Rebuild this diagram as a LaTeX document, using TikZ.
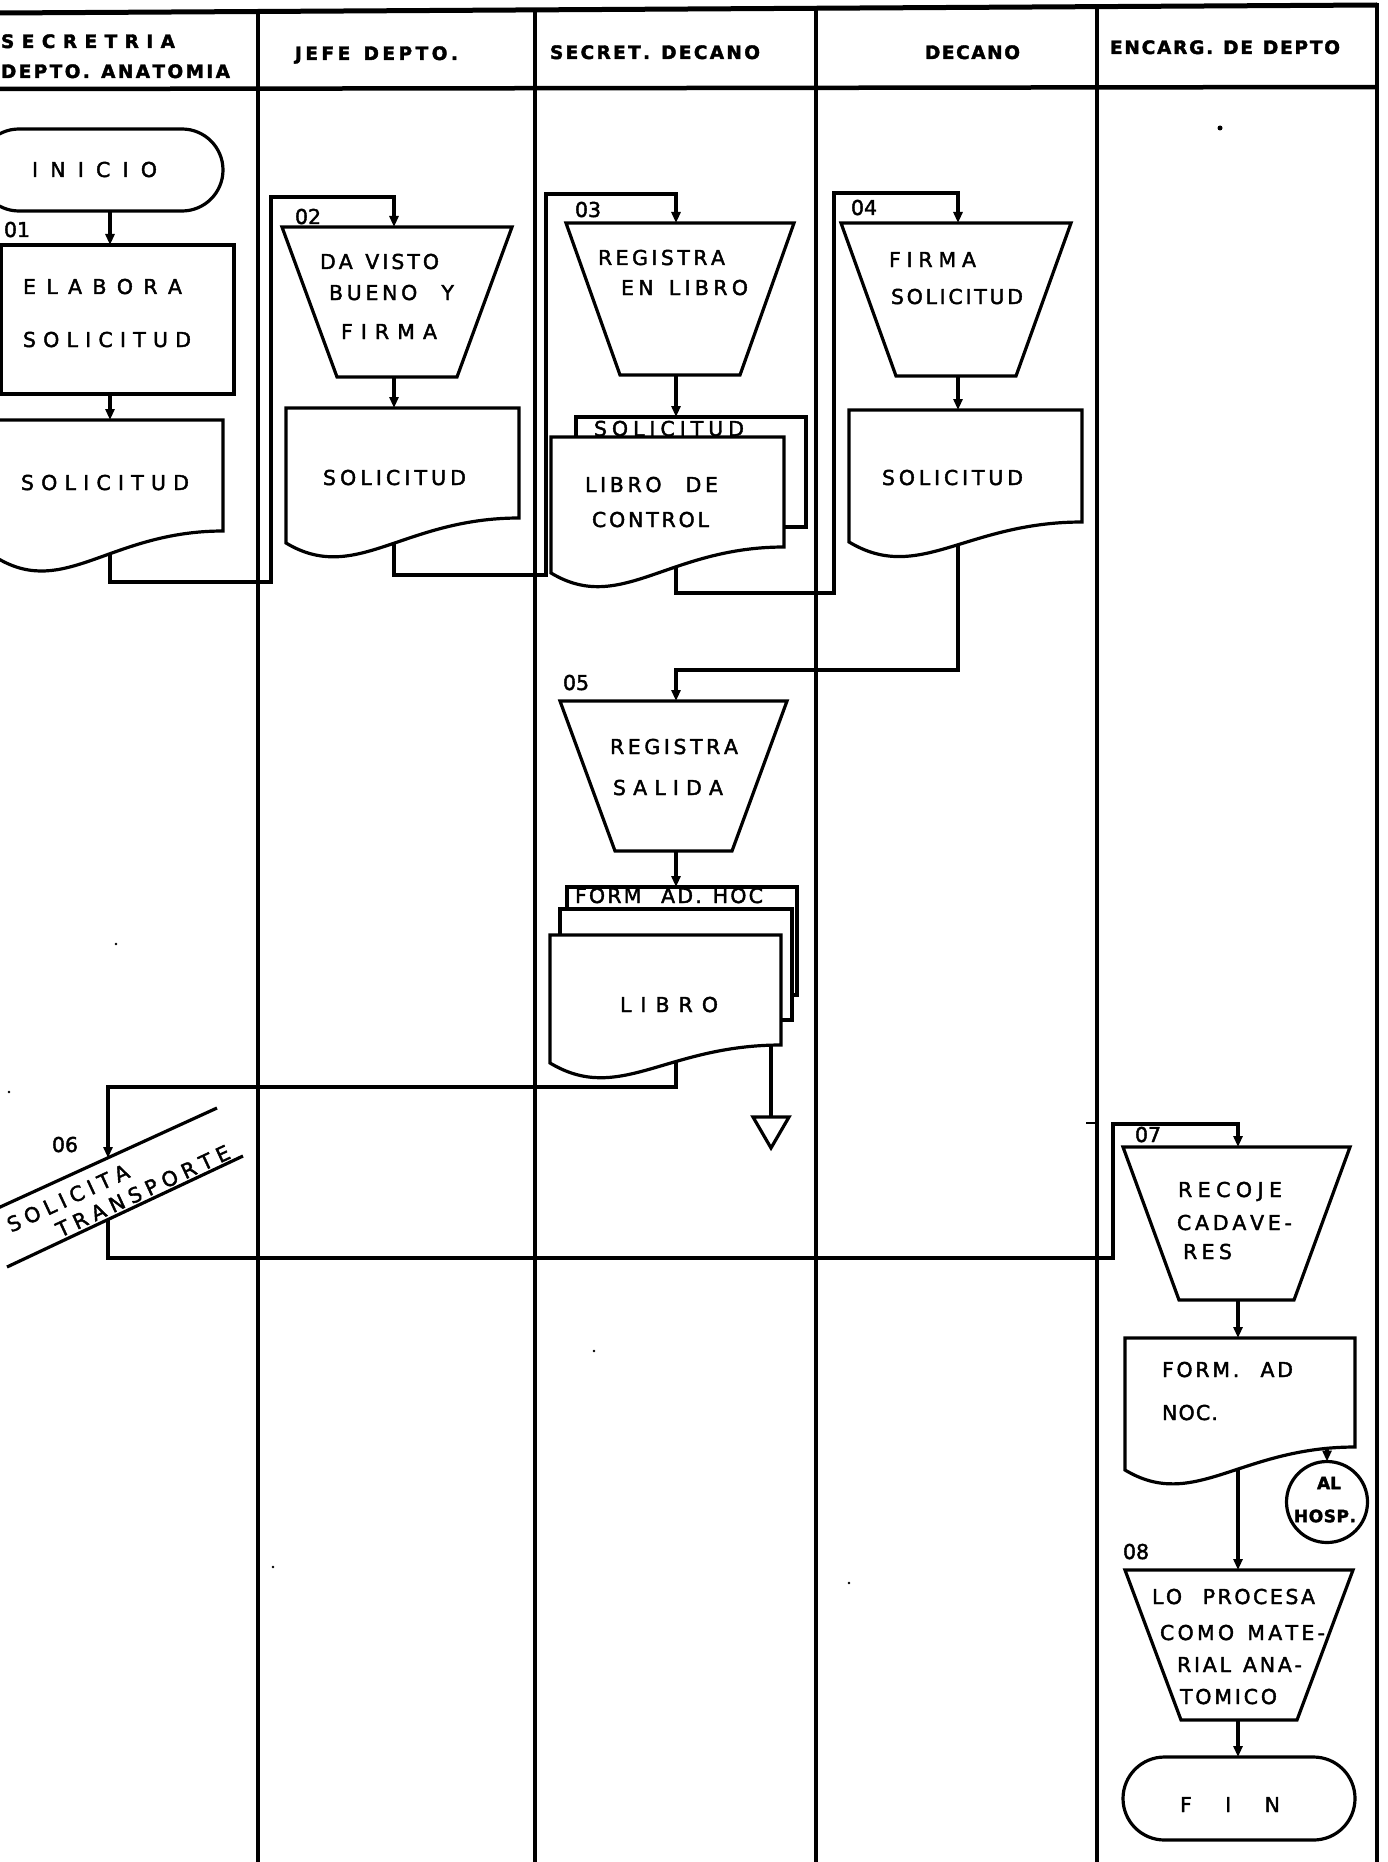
\documentclass[tikz,border=0pt]{standalone}
\usepackage{fontspec}
\usetikzlibrary{calc,arrows.meta,shapes.misc}
\newfontfamily\lett[FakeBold=2]{DejaVu Sans}

% spread the letters of a word evenly over a given width (in pt); ~ is a space
\makeatletter
\newcommand\spr[2]{\hbox to #1pt{\let\spr@sep\relax\@tfor\spr@t:=#2\do{\spr@sep\spr@t\let\spr@sep\hfil}}}
\makeatother

% manual-operation trapezoid drawn on a frame node
\newcommand\trap[2]{\filldraw[shp] (#1.north west) -- (#1.north east) -- ($(#1.south east)+(-#2,0)$) -- ($(#1.south west)+(#2,0)$) -- cycle;}
% document symbol with wavy lower edge: node, width, extra drop on the left
\newcommand\docu[3]{\filldraw[shp] (#1.north west) -- (#1.north east) -- (#1.south east) .. controls (#1.south) and ($(#1.south west)+({0.3*#2},{#3+0.18*#2})$) .. ($(#1.south west)+(0,#3)$) -- cycle;}

\tikzset{
  shp/.style={draw=black, fill=white, line width=3.2pt},
  frame/.style={rectangle, draw=none, inner sep=0pt, outer sep=0pt, anchor=north west},
  term/.style={shp, rounded rectangle, inner sep=0pt, outer sep=0pt},
  flow/.style={draw=black, line width=3.2pt, -{Triangle[length=11pt,width=9pt]}},
  link/.style={draw=black, line width=3.2pt},
  lane/.style={draw=black, line width=3.6pt},
  txt/.style={inner sep=0pt, outer sep=0pt, anchor=base west, font=\lett\fontsize{20.5}{20.5}\selectfont},
  hd/.style={txt, font=\lett\bfseries\fontsize{18.5}{18.5}\selectfont},
  speck/.style={fill=black},
}

\begin{document}
\begin{tikzpicture}[x=1pt,y=-1pt]
\useasboundingbox (0,0) rectangle (1388,1862);
\clip (0,0) rectangle (1388,1862);
\fill[white] (0,0) rectangle (1388,1862);

% header rules and swimlane dividers
\draw[line width=5pt] (0,13) -- (1377,5);
\draw[line width=4.5pt] (0,89) -- (1377,87);
\foreach \x in {258,535,816,1097}{\draw[lane] (\x,9) -- (\x,1862);}
\draw[line width=4pt] (1377,3) -- (1377,1862);

% lane headings
\node[hd] (h1a) at (1,48) {\spr{174}{SECRETRIA}};
\node[hd] (h1b) at (1,78) {\spr{229}{DEPTO.~ANATOMIA}};
\node[hd] (h2) at (295,60) {\spr{163}{JEFE~DEPTO.}};
\node[hd] (h3) at (550,59) {\spr{210}{SECRET.~DECANO}};
\node[hd] (h4) at (925,59) {\spr{95}{DECANO}};
\node[hd] (h5) at (1110,54) {\spr{230}{ENCARG.~DE~DEPTO}};

% symbol frames
\node[frame, minimum width=233pt, minimum height=149pt] (r1) at (1,245) {};
\node[frame, minimum width=226pt, minimum height=111pt] (d1) at (-3,420) {};
\node[frame, minimum width=230pt, minimum height=150pt] (t2) at (282,227) {};
\node[frame, minimum width=233pt, minimum height=110pt] (d2) at (286,408) {};
\node[frame, minimum width=228pt, minimum height=152pt] (t3) at (566,223) {};
\node[frame, minimum width=230pt, minimum height=110pt] (d3b) at (576,417) {};
\node[frame, minimum width=233pt, minimum height=110pt] (d3) at (551,437) {};
\node[frame, minimum width=230pt, minimum height=153pt] (t4) at (841,223) {};
\node[frame, minimum width=233pt, minimum height=112pt] (d4) at (849,410) {};
\node[frame, minimum width=227pt, minimum height=150pt] (t5) at (560,701) {};
\node[frame, minimum width=230pt, minimum height=108pt] (d5b) at (567,887) {};
\node[frame, minimum width=232pt, minimum height=111pt] (d5m) at (560,909) {};
\node[frame, minimum width=231pt, minimum height=110pt] (d5) at (550,935) {};
\node[frame, minimum width=36pt, minimum height=31pt] (arch) at (753,1117) {};
\node[frame, minimum width=227pt, minimum height=153pt] (t7) at (1123,1147) {};
\node[frame, minimum width=230pt, minimum height=109pt] (d7) at (1125,1338) {};
\node[frame, minimum width=228pt, minimum height=150pt] (t8) at (1125,1570) {};

% terminals and off-page connector
\node[term, minimum width=245pt, minimum height=82pt] (ini) at (100.5,170) {};
\node[term, minimum width=232pt, minimum height=83pt] (fin) at (1239,1798.5) {};
\node[shp, circle, minimum size=81pt, inner sep=0pt, outer sep=0pt] (hosp) at (1327,1502) {};

% flow columns and the slanted step's edges
\coordinate (ka) at (110,0);
\coordinate (kb) at (394,0);
\coordinate (kc) at (676,0);
\coordinate (kd) at (958,0);
\coordinate (ke) at (1238,0);
\coordinate (p6in) at (108,1158);
\coordinate (p6out) at (108,1220);

% connectors
\draw[flow] (ini.south -| ka) -- (r1.north -| ka);
\draw[flow] (r1.south -| ka) -- (d1.north -| ka);
\draw[flow] (d1.center -| ka) |- (271,582) -- (271,197) -| (t2.north -| kb);
\draw[flow] (t2.south -| kb) -- (d2.north -| kb);
\draw[flow] (d2.center -| kb) |- (546,575) -- (546,194) -| (t3.north -| kc);
\draw[flow] (t3.south -| kc) -- (d3b.north -| kc);
\draw[flow] (d3.center -| kc) |- (834,593) -- (834,193) -| (t4.north -| kd);
\draw[flow] (t4.south -| kd) -- (d4.north -| kd);
\draw[flow] (d4.center -| kd) |- (676,670) -- (t5.north -| kc);
\draw[flow] (t5.south -| kc) -- (d5b.north -| kc);
\draw[flow] (d5.center -| kc) |- (108,1087) -- (p6in);
\draw[link] (arch.north |- d5.center) -- (arch.north);
\draw[flow] (p6out) |- (1113,1258) -- (1113,1124) -| (t7.north -| ke);
\draw[flow] (t7.south -| ke) -- (d7.north -| ke);
\draw[flow] (d7.center -| ke) -- (t8.north -| ke);
\draw[flow] (hosp.north |- d7.center) -- (hosp.north);
\draw[flow] (t8.south -| ke) -- (fin.north -| ke);

% symbols
\filldraw[shp] (r1.north west) rectangle (r1.south east);
\docu{d1}{226}{27}
\trap{t2}{55}
\docu{d2}{233}{25}
\trap{t3}{54}
\filldraw[shp] (d3b.north west) rectangle (d3b.south east);
\docu{d3}{233}{26}
\trap{t4}{55}
\docu{d4}{233}{20}
\trap{t5}{55}
\filldraw[shp] (d5b.north west) rectangle (d5b.south east);
\filldraw[shp] (d5m.north west) rectangle (d5m.south east);
\docu{d5}{231}{18}
\filldraw[shp] (arch.north west) -- (arch.north east) -- (arch.south) -- cycle;
\trap{t7}{56}
\docu{d7}{230}{23}
\trap{t8}{56}
\draw[link] (-2,1208) -- (217,1108);
\draw[link] (7,1267) -- (243,1156);

% texts
\node[txt] (x01) at (4,237) {01};
\node[txt] (xini) at (32,177) {\spr{125}{INICIO}};
\node[txt] (xr1a) at (23,294) {\spr{159}{ELABORA}};
\node[txt] (xr1b) at (23,347) {\spr{168}{SOLICITUD}};
\node[txt] (xd1) at (21,490) {\spr{168}{SOLICITUD}};

\node[txt] (x02) at (295,224) {02};
\node[txt] (xt2a) at (320,269) {\spr{119}{DA~VISTO}};
\node[txt] (xt2b) at (329,300) {\spr{125}{BUENO~~Y}};
\node[txt] (xt2c) at (341,339) {\spr{96}{FIRMA}};
\node[txt] (xd2) at (323,485) {\spr{143}{SOLICITUD}};

\node[txt] (x03) at (575,217) {03};
\node[txt] (xt3a) at (598,265) {\spr{127}{REGISTRA}};
\node[txt] (xt3b) at (621,295) {\spr{127}{EN~LIBRO}};
\node[txt] (xd3b) at (594,436) {\spr{150}{SOLICITUD}};
\node[txt] (xd3a) at (585,492) {\spr{133}{LIBRO~~DE}};
\node[txt] (xd3c) at (592,527) {\spr{117}{CONTROL}};

\node[txt] (x04) at (851,215) {04};
\node[txt] (xt4a) at (889,267) {\spr{87}{FIRMA}};
\node[txt] (xt4b) at (891,304) {\spr{132}{SOLICITUD}};
\node[txt] (xd4) at (882,485) {\spr{141}{SOLICITUD}};

\node[txt] (x05) at (563,690) {05};
\node[txt] (xt5a) at (610,754) {\spr{128}{REGISTRA}};
\node[txt] (xt5b) at (613,795) {\spr{110}{SALIDA}};
\node[txt] (xd5b) at (575,903) {\spr{188}{FORM~~AD.~HOC}};
\node[txt] (xd5) at (620,1012) {\spr{98}{LIBRO}};

\node[txt] (x06) at (52,1152) {06};
\node[txt, anchor=center, rotate=25] (xp6a) at (68,1198) {\spr{132}{SOLICITA}};
\node[txt, anchor=center, rotate=25] (xp6b) at (143,1191) {\spr{189}{TRANSPORTE}};

\node[txt] (x07) at (1135,1142) {07};
\node[txt] (xt7a) at (1178,1197) {\spr{104}{RECOJE}};
\node[txt] (xt7b) at (1177,1230) {\spr{115}{CADAVE-}};
\node[txt] (xt7c) at (1183,1259) {\spr{49}{RES}};
\node[txt] (xd7a) at (1162,1377) {\spr{131}{FORM.~~AD}};
\node[txt] (xd7b) at (1162,1420) {\spr{56}{NOC.}};
\node[hd, anchor=center, font=\lett\bfseries\fontsize{17}{17}\selectfont] (xh1) at (1329,1483) {AL};
\node[hd, anchor=center, font=\lett\bfseries\fontsize{17}{17}\selectfont] (xh2) at (1325,1516) {\spr{62}{HOSP.}};

\node[txt] (x08) at (1123,1559) {08};
\node[txt] (xt8a) at (1152,1604) {\spr{163}{LO~~PROCESA}};
\node[txt] (xt8b) at (1160,1640) {\spr{165}{COMO~MATE-}};
\node[txt] (xt8c) at (1177,1672) {\spr{125}{RIAL~ANA-}};
\node[txt] (xt8d) at (1180,1704) {\spr{97}{TOMICO}};
\node[txt] (xfin) at (1180,1812) {\spr{100}{FIN}};

% stray marks on the sheet
\draw[line width=2pt] (1086,1123) -- (1097,1123);
\fill[speck] (1220,128) circle[radius=2.5pt];
\fill[speck] (116,944) circle[radius=1.3pt];
\fill[speck] (9,1092) circle[radius=1.3pt];
\fill[speck] (594,1351) circle[radius=1.3pt];
\fill[speck] (273,1567) circle[radius=1.3pt];
\fill[speck] (849,1583) circle[radius=1.3pt];
\end{tikzpicture}
\end{document}
